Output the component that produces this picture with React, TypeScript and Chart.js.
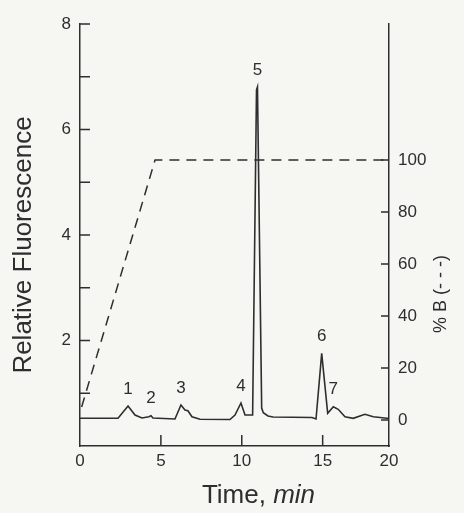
import React, { useEffect, useRef } from 'react';
import { Chart, registerables } from 'chart.js';

Chart.register(...registerables);

// ---- data ----
const timeMin = [
  0, 2.35, 2.97, 3.4, 3.83, 4.26, 4.39, 4.51, 5.87, 6.24, 6.49, 6.67, 6.92, 7.42,
  9.27, 9.58, 9.95, 10.2, 10.67, 10.91, 10.97, 11.23, 11.33, 11.62, 11.93, 14.34,
  14.59, 14.94, 15.31, 15.66, 15.96, 16.38, 16.89, 17.61, 18.13, 18.96, 19.1,
];
const relFluorescence = [
  0.525, 0.525, 0.758, 0.588, 0.531, 0.555, 0.574, 0.531, 0.512, 0.777, 0.682, 0.669, 0.555, 0.506,
  0.502, 0.588, 0.815, 0.588, 0.588, 6.75, 6.806, 0.72, 0.63, 0.57, 0.55, 0.54,
  0.512, 1.757, 0.62, 0.745, 0.696, 0.555, 0.525, 0.6, 0.555, 0.525, 0.525,
];
const gradientTime = [0.1, 4.64, 19.1];
const gradientPercentB = [5, 100, 100];

const peakLabels = ['1', '2', '3', '4', '5', '6', '7'];
const peakTimes = [2.97, 4.39, 6.24, 9.95, 10.97, 14.94, 15.66];

const xTickValues = [0, 5, 10, 15, 19.1];
const xTickLabels = ['0', '5', '10', '15', '20'];
const leftTickValues = [0, 1, 2, 3, 4, 5, 6, 7, 8];
const leftTickLabels = ['', '', '2', '', '4', '', '6', '', '8'];
const rightTickValues = [0, 20, 40, 60, 80, 100];
const rightTickLabels = ['0', '20', '40', '60', '80', '100'];

// ---- styles ----
const INK = '#2e2e2e';
const BG = '#f6f6f3';
const FONT = "'Liberation Sans', Arial, sans-serif";

const backgroundPlugin = {
  id: 'bgFill',
  beforeDraw(chart: any) {
    const { ctx, width, height } = chart;
    ctx.save();
    ctx.fillStyle = BG;
    ctx.fillRect(0, 0, width, height);
    ctx.restore();
  },
};

const decorPlugin = {
  id: 'decor',
  afterDraw(chart: any) {
    const { ctx, chartArea } = chart;
    const xs = chart.scales.x;
    const ys = chart.scales.y;
    const yr = chart.scales.y1;
    ctx.save();
    ctx.strokeStyle = INK;
    ctx.lineWidth = 1.5;
    // inward tick marks
    ctx.beginPath();
    xs.ticks.forEach((t: any) => {
      if (t.value <= xs.min || t.value >= xs.max) return;
      const px = xs.getPixelForValue(t.value);
      ctx.moveTo(px, chartArea.bottom);
      ctx.lineTo(px, chartArea.bottom - 11);
    });
    ys.ticks.forEach((t: any) => {
      if (t.value <= 0) return;
      const py = ys.getPixelForValue(t.value);
      ctx.moveTo(chartArea.left, py);
      ctx.lineTo(chartArea.left + 10, py);
    });
    yr.ticks.forEach((t: any) => {
      const py = yr.getPixelForValue(t.value);
      ctx.moveTo(chartArea.right, py);
      ctx.lineTo(chartArea.right - 8, py);
    });
    ctx.stroke();

    // peak labels
    ctx.fillStyle = INK;
    ctx.font = `17px ${FONT}`;
    ctx.textAlign = 'center';
    ctx.textBaseline = 'middle';
    peakLabels.forEach((lab, i) => {
      let best = 0;
      timeMin.forEach((t, j) => {
        if (Math.abs(t - peakTimes[i]) < Math.abs(timeMin[best] - peakTimes[i])) best = j;
      });
      const px = xs.getPixelForValue(peakTimes[i]);
      const py = ys.getPixelForValue(relFluorescence[best]);
      ctx.fillText(lab, px, py - 17);
    });

    // axis titles
    ctx.font = `26px ${FONT}`;
    ctx.textBaseline = 'alphabetic';
    ctx.textAlign = 'left';
    const part1 = 'Time, ';
    const w1 = ctx.measureText(part1).width;
    ctx.font = `italic 26px ${FONT}`;
    const w2 = ctx.measureText('min').width;
    const startX = (chartArea.left + chartArea.right) / 2 + 24 - (w1 + w2) / 2;
    ctx.font = `26px ${FONT}`;
    ctx.fillText(part1, startX, 503);
    ctx.font = `italic 26px ${FONT}`;
    ctx.fillText('min', startX + w1, 503);

    ctx.save();
    ctx.translate(24, 245);
    ctx.rotate(-Math.PI / 2);
    ctx.font = `26px ${FONT}`;
    ctx.textAlign = 'center';
    ctx.textBaseline = 'middle';
    ctx.fillText('Relative Fluorescence', 0, 0);
    ctx.restore();

    ctx.save();
    ctx.translate(441, 294);
    ctx.rotate(-Math.PI / 2);
    ctx.font = `18px ${FONT}`;
    ctx.textAlign = 'center';
    ctx.textBaseline = 'middle';
    ctx.fillText('% B (- - -)', 0, 0);
    ctx.restore();

    ctx.restore();
  },
};

export default function App() {
  const canvasRef = useRef<HTMLCanvasElement | null>(null);

  useEffect(() => {
    if (!canvasRef.current) return;
    const tickFont = { family: FONT, size: 17 };
    const chart = new Chart(canvasRef.current, {
      type: 'line',
      data: {
        datasets: [
          {
            label: 'Relative Fluorescence',
            data: timeMin.map((t, i) => ({ x: t, y: relFluorescence[i] })),
            yAxisID: 'y',
            borderColor: INK,
            borderWidth: 1.6,
            pointRadius: 0,
            tension: 0,
            fill: false,
          },
          {
            label: '% B',
            data: gradientTime.map((t, i) => ({ x: t, y: gradientPercentB[i] })),
            yAxisID: 'y1',
            borderColor: INK,
            borderWidth: 1.5,
            borderDash: [10, 7],
            pointRadius: 0,
            tension: 0,
            fill: false,
          },
        ],
      },
      options: {
        responsive: false,
        animation: false,
        events: [],
        layout: { padding: { top: 24, left: 0, right: 0, bottom: 0 } },
        plugins: { legend: { display: false }, tooltip: { enabled: false } },
        scales: {
          x: {
            type: 'linear',
            position: 'bottom',
            min: 0,
            max: 19.1,
            grid: { display: false, drawTicks: false },
            border: { display: true, color: INK, width: 1.5 },
            ticks: {
              color: INK,
              font: tickFont,
              padding: 5,
              autoSkip: false,
              maxRotation: 0,
              callback: (_v: any, i: number) => xTickLabels[i],
            },
            afterBuildTicks: (s: any) => {
              s.ticks = xTickValues.map((v) => ({ value: v }));
            },
            afterFit: (s: any) => {
              s.height = 67;
            },
          },
          y: {
            type: 'linear',
            position: 'left',
            min: 0,
            max: 8,
            grid: { display: false, drawTicks: false },
            border: { display: true, color: INK, width: 1.5 },
            ticks: {
              color: INK,
              font: tickFont,
              padding: 9,
              autoSkip: false,
              callback: (_v: any, i: number) => leftTickLabels[i],
            },
            afterBuildTicks: (s: any) => {
              s.ticks = leftTickValues.map((v) => ({ value: v }));
            },
            afterFit: (s: any) => {
              s.width = 80;
            },
          },
          y1: {
            type: 'linear',
            position: 'right',
            min: -10,
            max: 152.3,
            grid: { display: false, drawTicks: false, drawOnChartArea: false },
            border: { display: true, color: INK, width: 1.5 },
            ticks: {
              color: INK,
              font: tickFont,
              padding: 9,
              autoSkip: false,
              callback: (_v: any, i: number) => rightTickLabels[i],
            },
            afterBuildTicks: (s: any) => {
              s.ticks = rightTickValues.map((v) => ({ value: v }));
            },
            afterFit: (s: any) => {
              s.width = 75;
            },
          },
        },
      },
      plugins: [backgroundPlugin, decorPlugin],
    } as any);
    return () => chart.destroy();
  }, []);

  return (
    <div style={{ position: 'absolute', left: 0, top: 0, width: 464, height: 513, background: BG }}>
      <canvas ref={canvasRef} width={464} height={513} style={{ display: 'block' }} />
    </div>
  );
}
